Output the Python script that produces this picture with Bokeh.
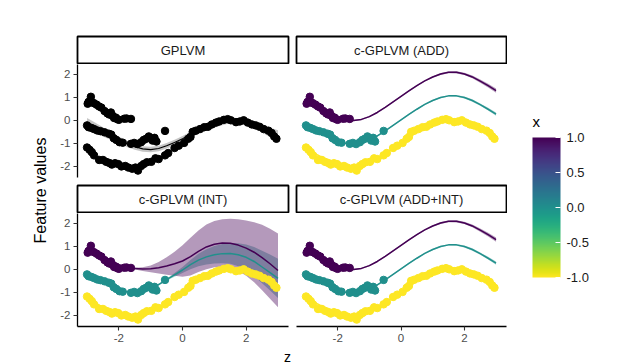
import math
from bokeh.plotting import figure
from bokeh.models import (Range1d, FixedTicker, ColumnDataSource, LinearColorMapper,
                          ColorBar, PrintfTickFormatter)
from bokeh.layouts import row, column
from bokeh.palettes import Viridis256
from bokeh.transform import transform
from bokeh.embed import file_html
from bokeh.resources import INLINE
from bokeh.core.properties import value

FONT = "Liberation Sans"

# ---------------- data ----------------
panel_titles = ["GPLVM", "c-GPLVM (ADD)", "c-GPLVM (INT)", "c-GPLVM (ADD+INT)"]
y_ticks = [-2, -1, 0, 1, 2]
x_ticks = [-2, 0, 2]
legend_ticks = [-1.0, -0.5, 0.0, 0.5, 1.0]

# observed points, x = 1 (purple)
purple_z = [-2.98, -2.95, -2.88, -2.84, -2.78, -2.70, -2.62, -2.55, -2.45, -2.36,
            -2.30, -2.25, -2.20, -2.15, -2.10, -2.05, -2.00, -1.83, -1.76, -1.62]
purple_v = [0.72, 0.80, 1.02, 0.78, 0.74, 0.68, 0.60, 0.55, 0.40, 0.30,
            0.25, 0.34, 0.20, 0.10, 0.12, 0.05, 0.02, 0.07, 0.08, 0.06]
# x = 0 (teal)
teal_z = [-3.00, -2.95, -2.86, -2.78, -2.68, -2.58, -2.45, -2.32, -2.24, -2.16,
          -2.08, -1.98, -1.88, -1.62, -1.52, -1.42, -1.30, -1.22, -1.14, -1.06,
          -1.00, -0.94, -0.88, -0.82, -0.55]
teal_v = [-0.22, -0.30, -0.33, -0.38, -0.44, -0.47, -0.52, -0.58, -0.62, -0.78,
          -0.85, -0.95, -0.97, -1.02, -0.98, -1.03, -0.95, -0.85, -0.80, -0.70,
          -0.78, -0.88, -0.76, -0.92, -0.46]
# x = -1 (yellow)
yellow_z = [-3.00, -2.92, -2.85, -2.78, -2.62, -2.50, -2.40, -2.30, -2.22, -2.12,
            -2.02, -1.92, -1.80, -1.70, -1.58, -1.48, -1.40, -1.30, -1.22, -1.12,
            -0.98, -0.85, -0.75, -0.55, -0.45, -0.25, -0.12, 0.05, 0.18, 0.25,
            0.32, 0.42, 0.55, 0.68, 0.80, 0.92, 1.05, 1.15, 1.30, 1.42,
            1.52, 1.68, 1.80, 1.92, 2.05, 2.18, 2.30, 2.42, 2.55, 2.70,
            2.80, 2.88, 2.95]
yellow_v = [-1.18, -1.28, -1.38, -1.52, -1.72, -1.72, -1.80, -1.85, -1.92, -1.86,
            -1.90, -2.00, -1.98, -2.05, -2.10, -2.05, -2.18, -1.98, -1.90, -1.82,
            -1.80, -1.65, -1.68, -1.52, -1.42, -1.20, -1.10, -0.98, -0.80, -0.72,
            -0.50, -0.45, -0.38, -0.30, -0.28, -0.18, -0.10, -0.05, 0.02, 0.05,
            0.00, -0.08, -0.05, 0.00, -0.10, -0.18, -0.22, -0.28, -0.38, -0.45,
            -0.55, -0.70, -0.80]

# fitted curves on a grid of z
z_grid = [-3.0, -2.75, -2.5, -2.25, -2.0, -1.75, -1.5, -1.25, -1.0, -0.75, -0.5, -0.25,
          0.0, 0.25, 0.5, 0.75, 1.0, 1.25, 1.5, 1.75, 2.0, 2.25, 2.5, 2.75, 3.0]

gplvm_mean = [-0.17, -0.32, -0.50, -0.68, -0.85, -1.02, -1.15, -1.24, -1.27, -1.22, -1.10, -0.96,
              -0.80, -0.62, -0.45, -0.31, -0.20, -0.09, -0.01, -0.02, -0.07, -0.18, -0.35, -0.52, -0.68]
gplvm_hw = [0.27, 0.23, 0.20, 0.17, 0.15, 0.14, 0.13, 0.12, 0.12, 0.12, 0.12, 0.12,
            0.12, 0.12, 0.12, 0.12, 0.12, 0.12, 0.12, 0.12, 0.13, 0.15, 0.18, 0.21, 0.25]

add_purple = [0.77, 0.60, 0.42, 0.25, 0.11, 0.02, -0.01, 0.04, 0.16, 0.34, 0.56, 0.80,
              1.04, 1.28, 1.50, 1.71, 1.88, 2.01, 2.08, 2.08, 2.01, 1.88, 1.70, 1.50, 1.29]
add_teal = [-0.25, -0.42, -0.60, -0.77, -0.91, -1.00, -1.03, -0.98, -0.86, -0.68, -0.46, -0.22,
            0.02, 0.26, 0.48, 0.69, 0.86, 0.99, 1.06, 1.06, 0.99, 0.86, 0.68, 0.48, 0.27]
add_yellow = [-1.25, -1.42, -1.60, -1.77, -1.91, -2.00, -2.03, -1.98, -1.86, -1.68, -1.46, -1.22,
              -0.98, -0.74, -0.52, -0.31, -0.14, -0.01, 0.06, 0.06, -0.01, -0.14, -0.32, -0.52, -0.73]
add_purple_hw = [0.06, 0.05, 0.04, 0.03, 0.03, 0.03, 0.03, 0.03, 0.03, 0.03, 0.03, 0.03,
                 0.03, 0.03, 0.03, 0.03, 0.03, 0.04, 0.04, 0.05, 0.05, 0.06, 0.07, 0.08, 0.09]
add_teal_hw = [0.05, 0.04, 0.03, 0.03, 0.03, 0.03, 0.03, 0.03, 0.03, 0.03, 0.03, 0.03,
               0.03, 0.03, 0.03, 0.03, 0.03, 0.03, 0.03, 0.04, 0.04, 0.05, 0.05, 0.06, 0.07]
add_yellow_hw = [0.04, 0.03, 0.03, 0.03, 0.03, 0.03, 0.03, 0.03, 0.03, 0.03, 0.03, 0.03,
                 0.03, 0.03, 0.03, 0.03, 0.03, 0.03, 0.03, 0.03, 0.03, 0.03, 0.03, 0.04, 0.05]

int_purple = [0.78, 0.66, 0.52, 0.36, 0.20, 0.09, 0.03, 0.01, 0.02, 0.07, 0.14, 0.24,
              0.36, 0.55, 0.78, 0.97, 1.09, 1.14, 1.13, 1.05, 0.92, 0.74, 0.51, 0.24, -0.05]
int_purple_hw = [0.04, 0.04, 0.04, 0.04, 0.04, 0.04, 0.04, 0.08, 0.15, 0.25, 0.38, 0.52,
                 0.68, 0.82, 0.90, 0.97, 1.00, 1.03, 1.06, 1.12, 1.20, 1.30, 1.42, 1.52, 1.60]
int_teal = [-0.24, -0.40, -0.57, -0.74, -0.88, -0.97, -1.00, -0.95, -0.84, -0.66, -0.45, -0.24,
            -0.03, 0.20, 0.40, 0.54, 0.63, 0.68, 0.69, 0.63, 0.52, 0.34, 0.10, -0.14, -0.39]
int_teal_hw = [0.03, 0.03, 0.03, 0.03, 0.03, 0.03, 0.03, 0.03, 0.03, 0.03, 0.04, 0.08,
               0.13, 0.20, 0.27, 0.33, 0.38, 0.42, 0.45, 0.50, 0.56, 0.63, 0.70, 0.78, 0.85]
int_yellow = [-1.20, -1.45, -1.65, -1.82, -1.93, -2.00, -2.05, -1.98, -1.84, -1.67, -1.47, -1.22,
              -0.98, -0.72, -0.46, -0.28, -0.14, -0.04, 0.01, -0.02, -0.08, -0.18, -0.31, -0.50, -0.78]
int_yellow_hw = [0.04] * 25

group_colors = {1: "#440154", 0: "#21908C", -1: "#FDE725"}

# ---------------- helpers ----------------
mapper = LinearColorMapper(palette=list(reversed(Viridis256)), low=-1, high=1)

pts = ColumnDataSource(dict(
    z=purple_z + teal_z + yellow_z,
    v=purple_v + teal_v + yellow_v,
    x=[1] * len(purple_z) + [0] * len(teal_z) + [-1] * len(yellow_z),
))

XR = (-3.3, 3.33)
YR = (-2.48, 2.42)


def ribbon_source(mean, hw):
    return ColumnDataSource(dict(z=z_grid, mid=mean,
                                 lo=[m - h for m, h in zip(mean, hw)],
                                 hi=[m + h for m, h in zip(mean, hw)]))


def style_axes(p):
    for ax in p.axis:
        ax.axis_line_color = "black"
        ax.axis_line_width = 1.3
        ax.major_tick_line_color = "#333333"
        ax.major_tick_line_width = 1.1
        ax.major_tick_out = 4
        ax.major_tick_in = 0
        ax.minor_tick_line_color = None
        ax.major_label_text_font = FONT
        ax.major_label_text_font_size = "11.5px"
        ax.major_label_text_color = "#4d4d4d"
        ax.major_label_standoff = 3


def blank_fig(width, height, **kw):
    f = figure(width=width, height=height, output_backend="svg", toolbar_location=None,
               x_range=Range1d(0, width), y_range=Range1d(0, height),
               x_axis_location=None, y_axis_location=None, min_border=0,
               outline_line_color=None, **kw)
    f.grid.visible = False
    return f


def make_panel(width, height, left, right, bottom, xaxis, yaxis):
    p = figure(width=width, height=height, output_backend="svg", toolbar_location=None,
               x_range=Range1d(*XR), y_range=Range1d(*YR),
               x_axis_location="below" if xaxis else None,
               y_axis_location="left" if yaxis else None,
               min_border_left=left, min_border_right=right,
               min_border_top=0, min_border_bottom=bottom,
               outline_line_color=None, background_fill_color="white",
               border_fill_color="white")
    p.grid.visible = False
    if yaxis:
        p.yaxis.ticker = FixedTicker(ticks=y_ticks)
        p.yaxis.major_label_overrides = {t: str(t) for t in y_ticks}
    if xaxis:
        p.xaxis.ticker = FixedTicker(ticks=x_ticks)
        p.xaxis.major_label_overrides = {t: str(t) for t in x_ticks}
    style_axes(p)
    return p


def make_strip(title, width, height, left, right, top, bottom):
    s = figure(width=width, height=height, output_backend="svg", toolbar_location=None,
               x_range=Range1d(0, 1), y_range=Range1d(0, 1),
               x_axis_location=None, y_axis_location=None,
               min_border_left=left, min_border_right=right,
               min_border_top=top, min_border_bottom=bottom,
               outline_line_color="black", outline_line_width=1.8,
               background_fill_color="white", border_fill_color="white")
    s.grid.visible = False
    s.text(x=[0.5], y=[0.5], text=[title], text_font=value(FONT), text_font_size="13px",
           text_color="#1a1a1a", text_align="center", text_baseline="middle")
    return s


def add_points(p, black=False):
    if black:
        p.scatter("z", "v", source=pts, size=7.5, color="black")
    else:
        p.scatter("z", "v", source=pts, size=7.5,
                  color=transform("x", mapper), line_color=transform("x", mapper))


def add_model(p, curves):
    # curves: list of (group, mean, hw) drawn in ascending group order
    srcs = [(g, ribbon_source(m, h)) for g, m, h in curves]
    for g, src in srcs:
        p.varea(x="z", y1="lo", y2="hi", source=src, fill_color=group_colors[g], fill_alpha=0.4)
    for g, src in srcs:
        p.line(x="z", y="mid", source=src, line_color=group_colors[g], line_width=1.5)
    add_points(p)


W_YLAB, LW, RW, W_LEG = 48, 244, 215, 121
H_ALL = 362
H_XLAB = 16

# ---------------- panels ----------------
s_tl = make_strip(panel_titles[0], LW, 62, 29, 4, 34, 1)
p_tl = make_panel(LW, 120, 29, 4, 7, False, True)
gsrc = ribbon_source(gplvm_mean, gplvm_hw)
p_tl.varea(x="z", y1="lo", y2="hi", source=gsrc, fill_color="grey", fill_alpha=0.45)
p_tl.line(x="z", y="mid", source=gsrc, line_color="black", line_width=1.1)
add_points(p_tl, black=True)

s_tr = make_strip(panel_titles[1], RW, 62, 4, 1, 34, 1)
p_tr = make_panel(RW, 120, 4, 1, 7, False, False)
add_model(p_tr, [(-1, add_yellow, add_yellow_hw), (0, add_teal, add_teal_hw),
                 (1, add_purple, add_purple_hw)])

s_bl = make_strip(panel_titles[2], LW, 29, 29, 4, 1, 1)
p_bl = make_panel(LW, 135, 29, 4, 22, True, True)
add_model(p_bl, [(-1, int_yellow, int_yellow_hw), (0, int_teal, int_teal_hw),
                 (1, int_purple, int_purple_hw)])

s_br = make_strip(panel_titles[3], RW, 29, 4, 1, 1, 1)
p_br = make_panel(RW, 135, 4, 1, 22, True, False)
add_model(p_br, [(-1, add_yellow, add_yellow_hw), (0, add_teal, add_teal_hw),
                 (1, add_purple, add_purple_hw)])

# ---------------- x label ----------------
xlab = blank_fig(LW + RW, H_XLAB)
xlab.text(x=[239], y=[8], text=["z"], text_font=value(FONT), text_font_size="14px",
          text_color="black", text_align="center", text_baseline="middle")

# ---------------- y label ----------------
ylab = blank_fig(W_YLAB, H_ALL)
ylab.text(x=[40], y=[174], text=["Feature values"], angle=math.pi / 2,
          text_font=value(FONT), text_font_size="16px", text_color="black",
          text_align="center", text_baseline="middle")

# ---------------- legend ----------------
leg = blank_fig(W_LEG, H_ALL)
leg.text(x=[25], y=[243], text=["x"], text_font=value(FONT), text_font_size="15px",
         text_color="black", text_align="left", text_baseline="middle")
cb = ColorBar(color_mapper=mapper, ticker=FixedTicker(ticks=legend_ticks),
              formatter=PrintfTickFormatter(format="%.1f"),
              width=28, height=140, location=(25, 87), padding=0,
              major_label_text_font=FONT, major_label_text_font_size="13px",
              major_label_text_color="#1a1a1a", label_standoff=6,
              major_tick_line_color="white", major_tick_in=5, major_tick_out=0,
              minor_tick_line_color=None, bar_line_color=None,
              background_fill_color=None, border_line_color=None)
leg.add_layout(cb, "center")

# thin dark rule at the very top of the picture
top_rule = figure(width=W_YLAB + LW + RW + W_LEG, height=2, output_backend="svg",
                  toolbar_location=None, x_axis_location=None, y_axis_location=None,
                  min_border=0, outline_line_color=None,
                  background_fill_color="#555555", border_fill_color="#555555")
top_rule.grid.visible = False

panels = column(row(column(s_tl, p_tl, s_bl, p_bl), column(s_tr, p_tr, s_br, p_br)), xlab)
layout = column(top_rule, row(ylab, panels, leg))

open("out.html", "w").write(file_html(layout, INLINE))
